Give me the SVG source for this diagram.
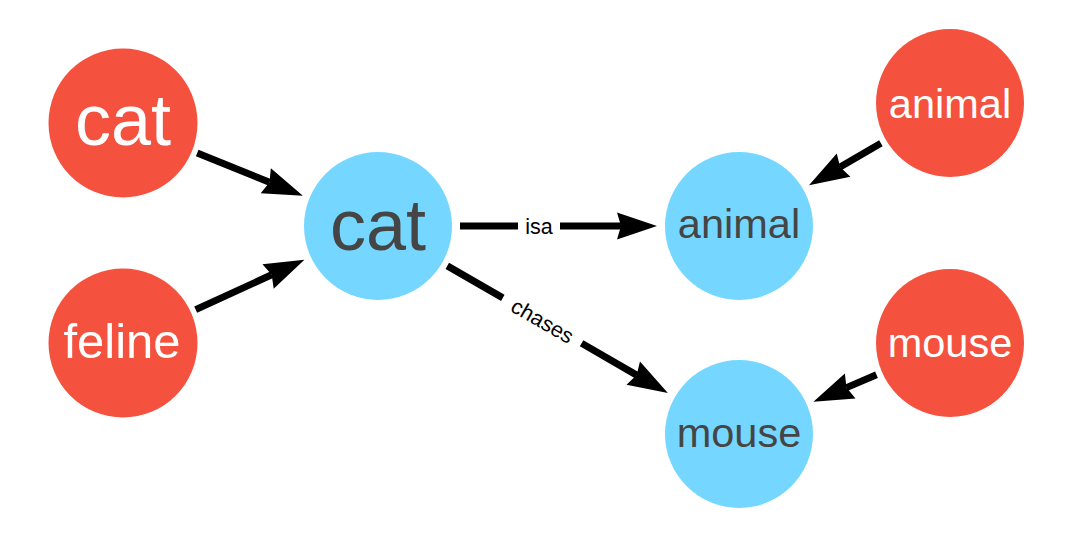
<svg xmlns="http://www.w3.org/2000/svg" width="1082" height="546" viewBox="0 0 1082 546">
<style>
.red{fill:#F4513F}
.blue{fill:#75D7FF}
.t{font-family:"Liberation Sans",Arial,sans-serif;text-anchor:middle}
.tw{fill:#ffffff}
.tg{fill:#454545}
.edge{stroke:#000;stroke-width:7;fill:none;marker-end:url(#arr)}
.lbl{font-family:"Liberation Sans",Arial,sans-serif;font-size:21.5px;text-anchor:middle;fill:#000}
</style>
<defs>
<marker id="arr" markerUnits="userSpaceOnUse" viewBox="-42 -15 44 30" markerWidth="44" markerHeight="30" refX="-36" refY="0" orient="auto">
<path d="M0,0 L-40,-13.5 L-36,0 L-40,13.5 Z" fill="#000"/>
</marker>
</defs>
<rect width="1082" height="546" fill="#ffffff"/>
<g id="connectors">
<line class="edge" x1="197.2" y1="153" x2="269.5" y2="182.2"/>
<line class="edge" x1="195.7" y1="309.6" x2="271.7" y2="274.8"/>
<path class="edge" d="M460,226 H518 M560,226 H621"/>
<text class="lbl" x="539" y="233.5">isa</text>
<path class="edge" d="M447.3,265.9 L502.8,297.9 M581.6,343.3 L636.7,375.1"/>
<text class="lbl" transform="translate(542.6,320.9) rotate(29.95)" x="0" y="7.5">chases</text>
<line class="edge" x1="880.9" y1="143.3" x2="840.1" y2="167.1"/>
<line class="edge" x1="876.5" y1="374.7" x2="846.5" y2="387.6"/>
</g>
<g id="node-red-cat">
<circle class="red" cx="123" cy="123" r="74.5"/>
<text class="t tw" x="123" y="145" font-size="72">cat</text>
</g>
<g id="node-red-feline">
<circle class="red" cx="123" cy="343" r="74.5"/>
<text class="t tw" x="122" y="358" font-size="49">feline</text>
</g>
<g id="node-blue-cat">
<circle class="blue" cx="378" cy="226" r="74"/>
<text class="t tg" x="378" y="250" font-size="72">cat</text>
</g>
<g id="node-blue-animal">
<circle class="blue" cx="739" cy="226" r="74"/>
<text class="t tg" x="739" y="238" font-size="41.5">animal</text>
</g>
<g id="node-blue-mouse">
<circle class="blue" cx="739" cy="434" r="74"/>
<text class="t tg" x="739" y="447" font-size="41.5">mouse</text>
</g>
<g id="node-red-animal">
<circle class="red" cx="950" cy="103" r="74"/>
<text class="t tw" x="950" y="118" font-size="41.5">animal</text>
</g>
<g id="node-red-mouse">
<circle class="red" cx="950" cy="343" r="74"/>
<text class="t tw" x="950" y="357" font-size="41.5">mouse</text>
</g>
</svg>
